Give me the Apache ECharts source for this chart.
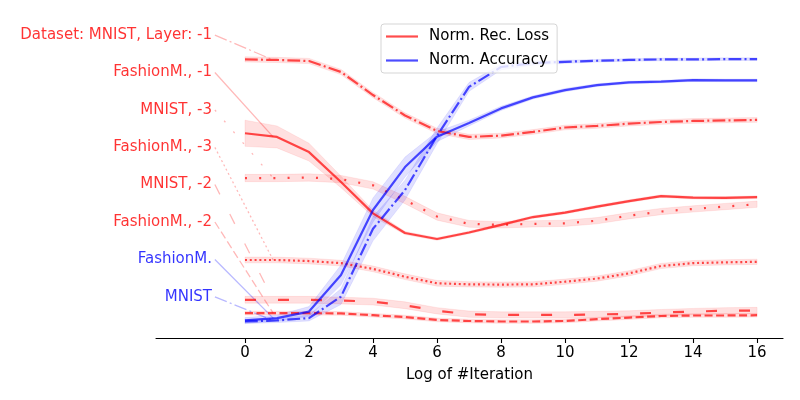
<!DOCTYPE html>
<html>
<head>
<meta charset="utf-8">
<script src="https://cdn.jsdelivr.net/npm/echarts@6/dist/echarts.min.js"></script>
<style>
html,body{margin:0;padding:0;background:#fff;}
#chart{width:800px;height:400px;}
</style>
</head>
<body>
<div id="chart"></div>
<script>
// ---- data ----
const iterations = [0,1,2,3,4,5,6,7,8,9,10,11,12,13,14,15,16];
const xTicks = [0,2,4,6,8,10,12,14,16];

const recMnistL1    = [1.007,1.005,1.001,0.959,0.871,0.793,0.734,0.711,0.716,0.730,0.747,0.753,0.762,0.768,0.772,0.774,0.776];
const recFashionL1  = [0.725,0.711,0.653,0.539,0.419,0.344,0.321,0.346,0.375,0.405,0.422,0.445,0.466,0.485,0.479,0.478,0.481];
const recMnistL3    = [0.554,0.554,0.556,0.550,0.526,0.470,0.407,0.379,0.375,0.379,0.381,0.391,0.410,0.426,0.436,0.445,0.454];
const recFashionL3  = [0.241,0.241,0.237,0.229,0.207,0.177,0.152,0.148,0.147,0.148,0.158,0.170,0.190,0.218,0.229,0.232,0.234];
const recMnistL2    = [0.089,0.089,0.089,0.086,0.082,0.068,0.047,0.034,0.031,0.031,0.031,0.033,0.035,0.040,0.044,0.047,0.048];
const recFashionL2  = [0.038,0.038,0.038,0.037,0.030,0.023,0.012,0.008,0.006,0.006,0.008,0.015,0.021,0.027,0.029,0.029,0.030];
const accFashion    = [0.010,0.019,0.044,0.184,0.432,0.596,0.712,0.764,0.820,0.862,0.890,0.909,0.919,0.922,0.928,0.927,0.927];
const accMnist      = [0.006,0.010,0.019,0.101,0.360,0.508,0.715,0.902,0.978,0.993,0.998,1.002,1.005,1.007,1.007,1.008,1.008];

const stdMnistL1    = [0.010,0.010,0.010,0.010,0.010,0.010,0.010,0.010,0.009,0.009,0.009,0.009,0.009,0.009,0.009,0.009,0.009];
const stdFashionL1  = [0.050,0.042,0.034,0.022,0.012,0.006,0.005,0.005,0.005,0.005,0.005,0.005,0.005,0.005,0.005,0.005,0.005];
const stdMnistL3    = [0.014,0.014,0.014,0.014,0.014,0.014,0.014,0.013,0.012,0.012,0.012,0.012,0.012,0.012,0.012,0.012,0.012];
const stdFashionL3  = [0.011,0.011,0.011,0.011,0.011,0.011,0.011,0.010,0.010,0.010,0.010,0.010,0.010,0.010,0.010,0.010,0.010];
const stdMnistL2    = [0.013,0.013,0.013,0.013,0.013,0.013,0.012,0.012,0.012,0.012,0.012,0.012,0.012,0.012,0.012,0.012,0.012];
const stdFashionL2  = [0.007,0.007,0.007,0.007,0.007,0.007,0.007,0.007,0.007,0.007,0.007,0.007,0.007,0.007,0.007,0.007,0.007];
const stdAccFashion = [0.011,0.011,0.019,0.038,0.046,0.038,0.019,0.011,0.008,0.006,0.006,0.005,0.005,0.005,0.005,0.005,0.005];
const stdAccMnist   = [0.008,0.008,0.011,0.030,0.046,0.038,0.030,0.017,0.011,0.008,0.006,0.005,0.005,0.005,0.005,0.005,0.005];

const labelTexts = ['Dataset: MNIST, Layer: -1','FashionM., -1','MNIST, -3','FashionM., -3','MNIST, -2','FashionM., -2','FashionM.','MNIST'];
const labelY     = [1.1, 0.957, 0.814, 0.671, 0.529, 0.386, 0.243, 0.1];

// ---- styles ----
const FONT = 'DejaVu Sans', FS = 15;
const RED = 'rgba(255,0,0,0.7)', BLUE = 'rgba(0,0,255,0.7)';
const RED_BAND = 'rgba(255,0,0,0.12)', BLUE_BAND = 'rgba(0,0,255,0.12)';
const RED_EDGE = 'rgba(255,0,0,0.1)', BLUE_EDGE = 'rgba(0,0,255,0.1)';
const RED_CONN = 'rgba(255,0,0,0.28)', BLUE_CONN = 'rgba(0,0,255,0.28)';
const DASHDOT = [12.8,3.2,2,3.2];
const lines = [
  {name:'MNIST -1 rec', data:recMnistL1, std:stdMnistL1, color:RED, band:RED_BAND, edge:RED_EDGE, conn:RED_CONN, type:DASHDOT, text:'#ff0000'},
  {name:'Norm. Rec. Loss', data:recFashionL1, std:stdFashionL1, color:RED, band:RED_BAND, edge:RED_EDGE, conn:RED_CONN, type:'solid', text:'#ff0000'},
  {name:'MNIST -3 rec', data:recMnistL3, std:stdMnistL3, color:RED, band:RED_BAND, edge:RED_EDGE, conn:RED_CONN, type:[2,12.2], text:'#ff0000'},
  {name:'FashionM -3 rec', data:recFashionL3, std:stdFashionL3, color:RED, band:RED_BAND, edge:RED_EDGE, conn:RED_CONN, type:[2,2.8], text:'#ff0000'},
  {name:'MNIST -2 rec', data:recMnistL2, std:stdMnistL2, color:RED, band:RED_BAND, edge:RED_EDGE, conn:RED_CONN, type:[11,22], text:'#ff0000'},
  {name:'FashionM -2 rec', data:recFashionL2, std:stdFashionL2, color:RED, band:RED_BAND, edge:RED_EDGE, conn:RED_CONN, type:[8,3.5], text:'#ff0000'},
  {name:'Norm. Accuracy', data:accFashion, std:stdAccFashion, color:BLUE, band:BLUE_BAND, edge:BLUE_EDGE, conn:BLUE_CONN, type:'solid', text:'#0000ff'},
  {name:'MNIST acc', data:accMnist, std:stdAccMnist, color:BLUE, band:BLUE_BAND, edge:BLUE_EDGE, conn:BLUE_CONN, type:DASHDOT, text:'#0000ff'}
];
const LABEL_X = -1.03, CONN_START_X = -0.94, CONN_END_X = 0.88;

const series = [];
lines.forEach((l, i) => {
  // shaded band (mean ± std) drawn as one polygon through the axis scales
  series.push({
    name: 'band-' + i, type: 'custom', silent: true, z: 1,
    data: [[iterations[0], l.data[0]]],
    renderItem: function (params, api) {
      const upper = l.data.map((v, k) => api.coord([iterations[k], v + l.std[k]]));
      const lower = l.data.map((v, k) => api.coord([iterations[k], v - l.std[k]])).reverse();
      return {
        type: 'polygon',
        shape: {points: upper.concat(lower)},
        style: {fill: l.band, stroke: l.edge, lineWidth: 0.8}
      };
    }
  });
  // connector from label to the line
  series.push({
    name: 'conn-' + i, type: 'line', symbol: 'none', silent: true, z: 2,
    data: [[CONN_START_X, labelY[i]], [CONN_END_X, l.data[1]]],
    lineStyle: {width: 1.3, color: l.conn, type: l.type, cap: 'butt'}
  });
});
lines.forEach((l, i) => {
  series.push({
    name: l.name, type: 'line', symbol: 'none', z: 3,
    data: l.data.map((v, k) => [iterations[k], v]),
    lineStyle: {width: 2.2, color: l.color, type: l.type, cap: 'butt'},
    itemStyle: {color: l.color}
  });
});
series.push({
  name: 'labels', type: 'scatter', symbolSize: 0, silent: true, z: 4,
  data: labelTexts.map((t, i) => ({
    value: [LABEL_X, labelY[i]],
    label: {show: true, position: 'left', distance: 0, formatter: t, color: lines[i].text,
            fontFamily: FONT, fontSize: FS}
  }))
});

const chart = echarts.init(document.getElementById('chart'), null, {renderer: 'canvas'});
chart.setOption({
  animation: false,
  backgroundColor: '#ffffff',
  grid: {left: 156, right: 17, top: 0, bottom: 62, containLabel: false},
  xAxis: {
    type: 'value', min: -2.78, max: 16.81,
    name: 'Log of #Iteration', nameLocation: 'middle', nameGap: 30,
    nameTextStyle: {fontFamily: FONT, fontSize: FS, color: '#000'},
    axisLine: {show: true, onZero: false, lineStyle: {color: '#000', width: 1.1}},
    axisTick: {show: true, inside: false, length: 5, customValues: xTicks, lineStyle: {color: '#000', width: 1.1}},
    axisLabel: {customValues: xTicks, margin: 8, fontFamily: FONT, fontSize: FS, color: '#000'},
    splitLine: {show: false}
  },
  yAxis: {
    type: 'value', min: -0.057, max: 1.234, show: false,
    splitLine: {show: false}
  },
  legend: {
    data: [
      {name: 'Norm. Rec. Loss', itemStyle: {color: RED}},
      {name: 'Norm. Accuracy', itemStyle: {color: BLUE}}
    ],
    orient: 'vertical', left: 381, top: 24,
    icon: 'rect', itemWidth: 32, itemHeight: 2.2, itemGap: 7,
    padding: [4, 8, 4, 5],
    backgroundColor: 'rgba(255,255,255,0.8)', borderColor: '#d5d5d5', borderWidth: 1, borderRadius: 3,
    textStyle: {fontFamily: FONT, fontSize: FS, color: '#000', padding: [0, 0, 0, 6], lineHeight: 17}
  },
  series: series
});
</script>
</body>
</html>
